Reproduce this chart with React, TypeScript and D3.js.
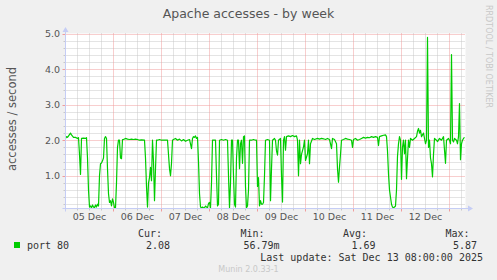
import React from "react";
import * as d3 from "d3";

const W = 497;
const H = 280;

// half-hour slot index since 05 Dec 00:00 and the value read at that slot
const slots = [0,1,2,5,6,8,10,12,13,14,15,16,18,20,21,22,23,24,25,26,27,28,29,30,31,32,33,34,35,36,37,38,39,40,41,42,43,44,45,46,47,48,49,50,51,52,53,54,55,56,57,58,60,62,64,66,68,70,72,74,76,79,80,81,82,83,84,85,86,87,88,89,90,91,92,94,96,98,100,102,103,104,105,106,107,108,110,112,114,116,118,120,122,124,126,127,128,129,130,131,132,133,134,135,136,137,138,139,140,141,142,143,144,145,146,147,148,150,151,152,153,154,156,158,160,162,163,164,165,166,167,168,169,170,171,172,173,174,175,176,177,178,179,180,181,182,183,184,186,188,190,191,192,193,194,195,196,197,198,199,200,202,204,205,206,207,209,210,211,212,213,215,216,217,218,219,220,221,223,225,227,229,231,232,233,234,235,236,238,239,240,242,243,244,245,247,249,252,254,256,258,260,262,264,265,266,267,269,271,272,273,274,275,276,278,280,282,284,286,287,288,290,292,294,296,298,300,302,304,306,308,310,312,313,314,316,318,320,321,322,323,324,326,327,328,329,330,331,332,333,334,335,336,337,338,339,340,341,342,343,344,345,347,349,351,352,353,354,355,356,358,359,360,361,362,363,364,365,366,367,368,369,371,372,374,376,378,380,381,383,384,385,386,387,388,389,391,392,393,394,395,396,397,398,399];
const accesses = [2.05,2.1,2.08,2.2,2.15,2.08,2.08,2.05,2.07,1.6,1.04,2.05,2.06,2.05,2.07,1.5,0.6,0.12,0.15,0.1,0.18,0.12,0.1,0.18,0.12,0.2,0.15,1.0,1.34,1.36,1.42,1.5,2.05,2.1,2.05,1.2,0.5,0.25,0.3,0.15,0.35,0.25,0.1,0.1,0.8,1.8,2.0,2.0,1.5,1.48,2.02,2.02,2.05,2.03,2.02,2.03,2.02,2.03,2.02,2.0,2.01,2.0,1.5,0.7,0.12,0.8,0.95,1.24,0.86,2.0,1.4,0.3,1.2,2.0,2.0,2.02,2.0,2.0,2.0,2.0,1.6,1.2,1.0,1.35,2.0,2.02,2.05,2.0,2.03,1.98,2.02,1.97,2.0,2.02,1.76,2.05,2.1,2.08,2.12,2.05,2.08,1.4,0.5,0.12,0.1,0.12,0.1,0.1,0.15,0.12,0.1,0.22,0.25,0.1,0.8,2.0,2.0,2.0,1.0,0.15,0.2,2.0,2.02,2.0,2.02,2.0,1.0,0.1,0.8,2.0,2.0,1.0,0.2,0.12,1.5,2.0,2.0,1.2,1.9,2.0,1.35,2.1,2.12,0.7,0.1,0.15,0.6,2.0,2.0,2.02,2.0,2.0,0.7,0.95,0.15,0.3,0.2,0.2,0.25,1.0,2.0,2.02,2.0,0.3,1.2,2.0,2.05,2.0,1.7,1.58,2.0,2.05,1.0,0.26,2.0,2.1,1.72,2.1,2.12,2.1,2.13,2.1,2.12,2.0,1.0,2.0,1.34,1.6,1.81,2.0,1.43,1.62,2.0,1.34,1.9,2.05,2.02,2.05,2.03,2.05,2.04,2.02,2.05,2.02,1.9,1.76,2.05,2.02,1.9,1.2,0.82,1.25,1.6,2.0,2.02,2.05,2.03,2.02,2.0,1.8,2.02,2.05,2.0,2.02,2.05,2.08,2.06,2.08,2.07,2.1,2.08,2.1,2.08,1.85,2.1,2.12,2.14,2.15,2.1,1.7,1.05,0.6,0.2,0.12,0.1,0.12,0.15,0.6,1.55,1.9,2.1,2.0,0.9,1.8,2.0,1.62,2.0,0.92,1.5,2.0,1.8,2.05,2.0,2.05,2.1,2.25,2.33,2.2,2.28,2.1,2.2,2.05,1.9,2.0,4.89,1.8,2.0,1.5,1.34,0.97,1.6,2.05,2.0,1.96,2.05,2.0,2.1,1.35,2.0,2.05,2.0,1.9,4.41,2.0,1.95,2.05,2.0,1.9,2.1,3.03,1.45,1.9,2.0,2.05,2.08];

const yTicks = [1, 2, 3, 4, 5];
const legendHeaders = ["Cur:", "Min:", "Avg:", "Max:"];
const legendValues = ["2.08", "56.79m", "1.69", "5.87"];
const seriesName = "port 80";
const title = "Apache accesses - by week";
const yLabel = "accesses / second";
const lastUpdate = "Last update: Sat Dec 13 08:00:00 2025";
const footer = "Munin 2.0.33-1";
const sideText = "RRDTOOL / TOBI OETIKER";

const start = new Date(2025, 11, 5, 0, 0, 0);
const end = new Date(2025, 11, 13, 8, 0, 0);
const yMin = 0.08;
const yMax = 5;

const plotL = 65.5, plotR = 465.5, plotT = 33.5, plotB = 208.5;

export default function App() {
  const x = d3.scaleTime().domain([start, end]).range([plotL, plotR]);
  const y = d3.scaleLinear().domain([yMin, yMax]).range([plotB, plotT]);
  const times = slots.map((s) => new Date(start.getTime() + s * 30 * 60 * 1000));
  const pts: [Date, number][] = times.map((t, i) => [t, accesses[i]]);
  const line = d3
    .line<[Date, number]>()
    .x((d) => x(d[0]))
    .y((d) => y(d[1]));

  const minorX = d3.timeHour.every(6)!.range(start, end).filter((d) => d.getHours() !== 0 && +d > +start);
  const majorX = d3.timeDay.range(d3.timeDay.offset(start, 1), end);
  const labelDays = d3.timeDay.range(start, d3.timeDay.floor(end));
  const fmt = d3.timeFormat("%d %b");
  const minorY = d3.range(1, 25).map((k) => k * 0.2).filter((v) => v >= yMin && Math.abs(v - Math.round(v)) > 1e-6);

  const gridGray = "#c8c8c8";
  const gridRed = "#f09c9c";
  const axisCol = "#c5cdf5";
  const txt = "#555";
  const headerX = [162, 264.5, 367, 469.5];
  const valueX = [170, 279.5, 375.5, 477];

  return (
    <svg width={W} height={H} style={{ position: "absolute", left: 0, top: 0, background: "#f0f0f0" }} fontFamily="DejaVu Sans">
      <rect x={0} y={0} width={W} height={H} fill="#f0f0f0" />
      <rect x={plotL} y={plotT} width={plotR - plotL} height={plotB - plotT} fill="#ffffff" />
      {minorY.map((v) => (
        <line key={"my" + v} x1={plotL} x2={plotR} y1={Math.round(y(v)) + 0.5} y2={Math.round(y(v)) + 0.5} stroke={gridGray} strokeDasharray="1,1" />
      ))}
      {minorX.map((d) => (
        <line key={"mx" + +d} x1={x(d)} x2={x(d)} y1={plotT} y2={plotB} stroke={gridGray} strokeDasharray="1,1" />
      ))}
      {yTicks.map((v) => (
        <line key={"My" + v} x1={plotL} x2={plotR} y1={Math.round(y(v)) + 0.5} y2={Math.round(y(v)) + 0.5} stroke={gridRed} strokeDasharray="1,1" />
      ))}
      {majorX.map((d) => (
        <line key={"Mx" + +d} x1={x(d)} x2={x(d)} y1={plotT} y2={plotB} stroke={gridRed} strokeDasharray="1,1" />
      ))}
      {majorX.map((d) => (
        <line key={"tx" + +d} x1={x(d)} x2={x(d)} y1={plotB} y2={plotB + 3} stroke={gridRed} />
      ))}
      {minorX.map((d) => (
        <line key={"tmx" + +d} x1={x(d)} x2={x(d)} y1={plotB} y2={plotB + 2} stroke={gridGray} />
      ))}
      {yTicks.map((v) => (
        <line key={"ty" + v} x1={plotL - 3} x2={plotL} y1={Math.round(y(v)) + 0.5} y2={Math.round(y(v)) + 0.5} stroke={gridRed} />
      ))}
      {minorY.map((v) => (
        <line key={"tmy" + v} x1={plotL - 2} x2={plotL} y1={Math.round(y(v)) + 0.5} y2={Math.round(y(v)) + 0.5} stroke={gridGray} />
      ))}
      <path d={line(pts) || ""} fill="none" stroke="#00cc00" strokeWidth={1.2} strokeLinejoin="round" />
      <line x1={plotL} x2={plotL} y1={plotB + 3} y2={29} stroke={axisCol} />
      <polygon points={`${plotL - 3},32 ${plotL},27 ${plotL + 3},32`} fill={axisCol} />
      <line x1={plotL - 3} x2={470} y1={plotB} y2={plotB} stroke={axisCol} />
      <polygon points={`${468},${plotB - 3} ${473},${plotB} ${468},${plotB + 3}`} fill={axisCol} />
      {yTicks.map((v) => (
        <text key={"yl" + v} x={60} y={y(v) + 3.5} textAnchor="end" fontSize={9.5} fill={txt}>
          {d3.format(".1f")(v)}
        </text>
      ))}
      {labelDays.map((d) => (
        <text key={"xl" + +d} x={x(d3.timeHour.offset(d, 12))} y={220} textAnchor="middle" fontSize={9.5} fill={txt}>
          {fmt(d)}
        </text>
      ))}
      <text x={248.5} y={17.5} textAnchor="middle" fontSize={12.5} fill={txt}>
        {title}
      </text>
      <text transform={`translate(15.5,${119}) rotate(-90)`} textAnchor="middle" fontSize={11.5} fill={txt}>
        {yLabel}
      </text>
      <text transform={`translate(485.5,5) rotate(90)`} textAnchor="start" fontSize={8} fill="#c8c8c8">
        {sideText}
      </text>
      <rect x={14} y={242} width={6} height={6} fill="#00cc00" />
      <g fontFamily="DejaVu Sans Mono" fontSize={10} fill="#333">
        <text x={27} y={249}>{seriesName}</text>
        {legendHeaders.map((h, i) => (
          <text key={h} x={headerX[i]} y={237} textAnchor="end">{h}</text>
        ))}
        {legendValues.map((v, i) => (
          <text key={"v" + i} x={valueX[i]} y={249} textAnchor="end">{v}</text>
        ))}
        <text x={483} y={261} textAnchor="end">{lastUpdate}</text>
      </g>
      <text x={248.5} y={272} textAnchor="middle" fontSize={8} fill="#c8c8c8">
        {footer}
      </text>
    </svg>
  );
}
